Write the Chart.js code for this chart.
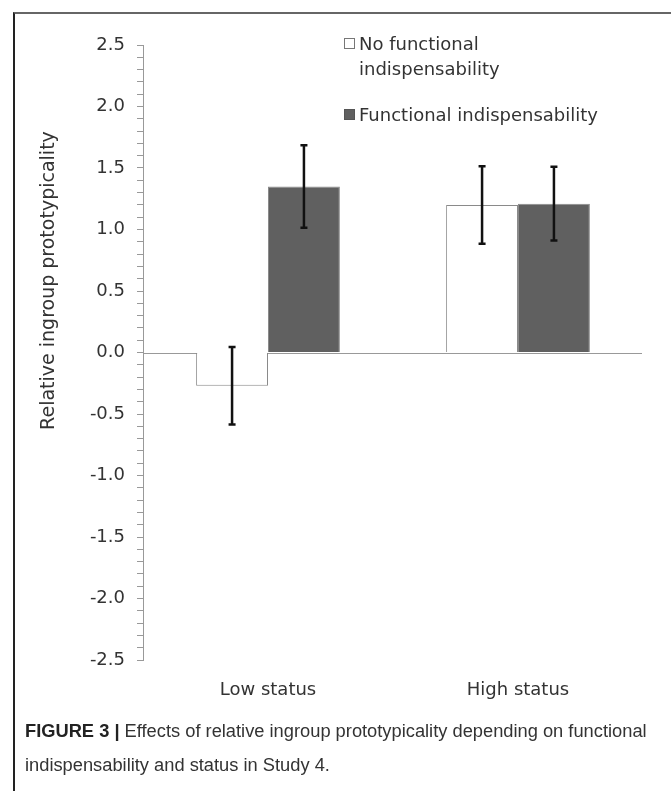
<!DOCTYPE html>
<html>
<head>
<meta charset="utf-8">
<script src="https://cdn.jsdelivr.net/npm/chart.js@4/dist/chart.umd.min.js"></script>
<style>
    body { margin: 0; background: #fff; width: 671px; height: 791px; position: relative; overflow: hidden; }
    #frame { position: absolute; left: 13px; top: 12px; width: 660px; height: 790px;
        border-left: 2px solid #222; border-top: 2px solid #666; pointer-events: none; }
    #chart { position: absolute; left: 0; top: 0; }
    #legend { position: absolute; left: 344px; top: 31px; font-family: "DejaVu Sans", sans-serif;
        font-size: 18px; color: #333; }
    #legend .item { display: flex; align-items: flex-start; margin-bottom: 21px; }
    #legend .box { width: 11px; height: 11px; margin-top: 7px; margin-right: 4px; box-sizing: border-box; }
    #legend .lbl { width: 260px; line-height: 25px; }
    #caption { position: absolute; left: 25px; top: 714px; width: 646px; font-family: "Liberation Sans", Arial, sans-serif;
        font-size: 18.3px; line-height: 34px; color: #333; }
    #caption b { color: #222; }
</style>
</head>
<body>
<canvas id="chart" width="671" height="710"></canvas>
<div id="legend"></div>
<div id="frame"></div>
<div id="caption"><b>FIGURE 3 |</b> Effects of relative ingroup prototypicality depending on functional indispensability and status in Study 4.</div>
<script>
const categories = ['Low status', 'High status'];
const noFunctional = [-0.27, 1.20];
const noFunctionalErr = [0.315, 0.315];
const functional = [1.35, 1.21];
const functionalErr = [0.335, 0.30];
const yTitle = 'Relative ingroup prototypicality';

const tickFont = { family: 'DejaVu Sans', size: 18 };

// horizontal line at y = 0 running across the plot
const zeroLine = {
    id: 'zeroLine',
    beforeDatasetsDraw(chart) {
        const { ctx, chartArea, scales } = chart;
        const y = Math.round(scales.y.getPixelForValue(0)) + 0.5;
        ctx.save();
        ctx.strokeStyle = '#999';
        ctx.lineWidth = 1;
        ctx.beginPath();
        ctx.moveTo(chartArea.left, y);
        ctx.lineTo(chartArea.right - 1, y);
        ctx.stroke();
        ctx.restore();
    }
};

const errorBars = {
    id: 'errorBars',
    afterDatasetsDraw(chart) {
        const { ctx, scales } = chart;
        ctx.save();
        ctx.strokeStyle = '#111';
        ctx.lineWidth = 2.5;
        chart.data.datasets.forEach((ds, i) => {
            const meta = chart.getDatasetMeta(i);
            meta.data.forEach((bar, j) => {
                const v = ds.data[j];
                const e = ds.err[j];
                const top = scales.y.getPixelForValue(v + e);
                const bot = scales.y.getPixelForValue(v - e);
                const x = bar.x;
                ctx.beginPath();
                ctx.moveTo(x, top);
                ctx.lineTo(x, bot);
                ctx.moveTo(x - 3.5, top);
                ctx.lineTo(x + 3.5, top);
                ctx.moveTo(x - 3.5, bot);
                ctx.lineTo(x + 3.5, bot);
                ctx.stroke();
            });
        });
        ctx.restore();
    }
};

// y title sits a bit above the axis centre in the original
const sideTitle = {
    id: 'sideTitle',
    afterDraw(chart) {
        const { ctx, chartArea } = chart;
        ctx.save();
        ctx.translate(49, chartArea.top + (chartArea.bottom - chartArea.top) * 0.383);
        ctx.rotate(-Math.PI / 2);
        ctx.font = '19px "DejaVu Sans"';
        ctx.fillStyle = '#333';
        ctx.textAlign = 'center';
        ctx.textBaseline = 'middle';
        ctx.fillText(yTitle, 0, 0);
        ctx.restore();
    }
};

const chart = new Chart(document.getElementById('chart'), {
    type: 'bar',
    data: {
        labels: categories,
        datasets: [{
            label: 'No functional indispensability',
            data: noFunctional,
            err: noFunctionalErr,
            backgroundColor: '#ffffff',
            borderColor: '#8a8a8a',
            borderWidth: 1
        }, {
            label: 'Functional indispensability',
            data: functional,
            err: functionalErr,
            backgroundColor: '#606060',
            borderColor: '#8a8a8a',
            borderWidth: 1
        }]
    },
    options: {
        responsive: false,
        animation: false,
        devicePixelRatio: 1,
        categoryPercentage: 0.575,
        barPercentage: 1,
        layout: { padding: { top: 45, right: 28, left: 0, bottom: 0 } },
        plugins: { legend: { display: false }, tooltip: { enabled: false } },
        scales: {
            x: {
                grid: { display: false },
                border: { display: false },
                ticks: { font: { ...tickFont, size: 18 }, color: '#333', padding: 12 },
                afterFit(scale) { scale.height = 50; }
            },
            y: {
                min: -2.5,
                max: 2.5,
                grid: { drawOnChartArea: false, drawTicks: true, tickLength: 6, color: '#999' },
                border: { color: '#999' },
                ticks: {
                    stepSize: 0.1,
                    autoSkip: false,
                    maxTicksLimit: 100,
                    font: tickFont,
                    color: '#333',
                    padding: 12,
                    callback(value) {
                        const t = Math.round(value * 10);
                        return t % 5 === 0 ? (t / 10).toFixed(1) : '';
                    }
                },
                afterFit(scale) { scale.width = 143; }
            }
        }
    },
    plugins: [zeroLine, errorBars, sideTitle]
});

// legend built from the datasets
const legend = document.getElementById('legend');
chart.data.datasets.forEach((ds) => {
    const item = document.createElement('div');
    item.className = 'item';
    const box = document.createElement('div');
    box.className = 'box';
    box.style.background = ds.backgroundColor;
    box.style.border = '1px solid ' + (ds.backgroundColor === '#ffffff' ? '#777' : '#555');
    const lbl = document.createElement('div');
    lbl.className = 'lbl';
    lbl.textContent = ds.label;
    if (ds.backgroundColor === '#ffffff') lbl.style.width = '170px';
    item.appendChild(box);
    item.appendChild(lbl);
    legend.appendChild(item);
});
</script>
</body>
</html>
